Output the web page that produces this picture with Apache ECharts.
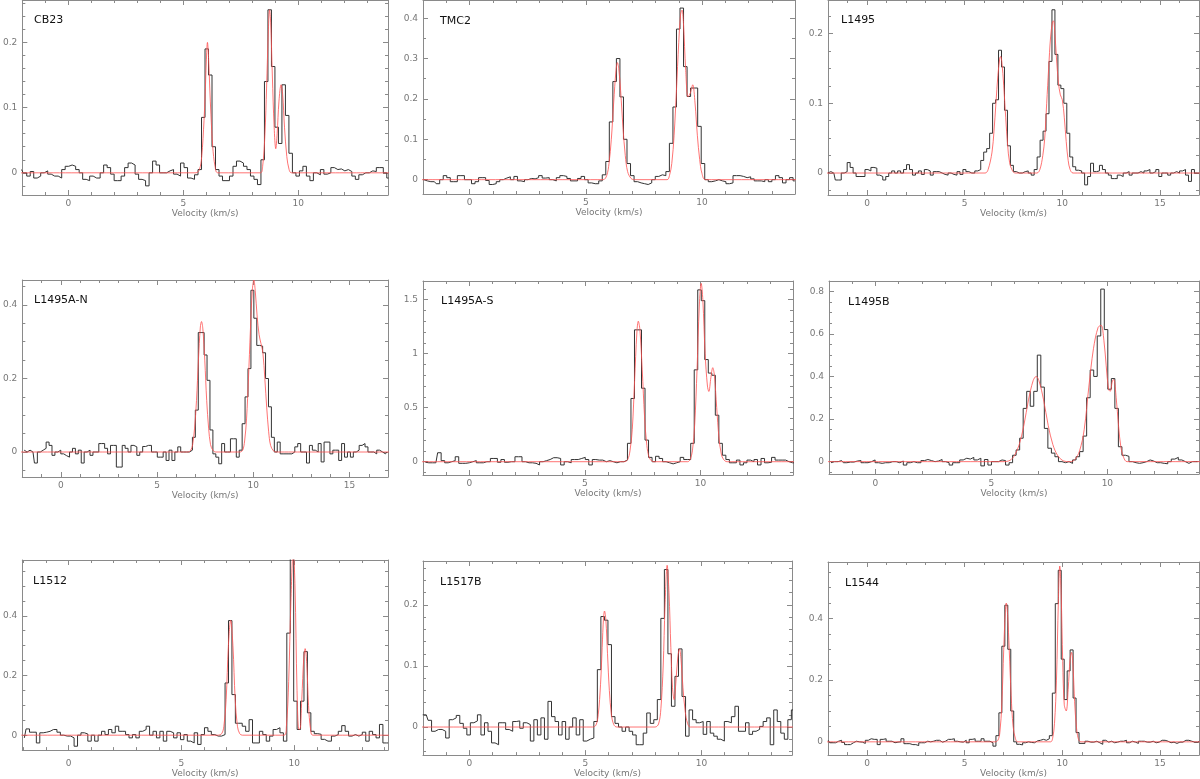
<!DOCTYPE html>
<html>
<head>
<meta charset="utf-8">
<title>Spectra</title>
<script src="https://cdn.jsdelivr.net/npm/echarts@6/dist/echarts.min.js"></script>
<style>
html, body { margin: 0; padding: 0; background: #fff; }
#chart { width: 1200px; height: 779px; }
</style>
</head>
<body>
<div id="chart"></div>
<script>
// source names, one per panel
const names = ['CB23', 'TMC2', 'L1495', 'L1495A-N', 'L1495A-S', 'L1495B', 'L1512', 'L1517B', 'L1544'];

// channel grid: first channel velocity (km/s) per panel, channel width
const v0 = [-2.036, -1.966, -2.006, -1.902, -1.899, -1.913, -1.96, -2.011, -1.988];
const dv = 0.152;

// observed spectra (K), one value per channel
const cb23 = [
  0.005,0,-0.005,0.002,-0.008,-0.005,0,0.003,-0.002,-0.005,
  -0.005,-0.008,0.005,0.01,0.012,0.01,0.005,0,-0.01,-0.012,
  -0.005,-0.008,-0.008,0,0.012,0.008,-0.002,-0.012,-0.012,-0.005,
  0.008,0.015,0.012,-0.002,-0.01,-0.012,-0.02,0,0.018,0.012,
  0,0,0.003,0.005,-0.002,-0.005,0.015,0.008,-0.008,-0.01,
  -0.003,0.005,0.085,0.19,0.15,0.04,0.005,-0.005,-0.012,-0.012,
  -0.005,0.01,0.018,0.015,0.01,0.005,-0.005,-0.01,-0.018,0.02,
  0.14,0.25,0.163,0.07,0.045,0.135,0.088,0.03,0,-0.005,
  0.003,0.01,-0.005,-0.012,0,-0.003,0.005,-0.002,0,0.008,
  0.005,0.006,0.003,0.005,0.002,-0.005,-0.01,-0.003,0,0,
  0.003,0.002,0.008,0.008,0,-0.008
];
const tmc2 = [
  0,-0.003,-0.005,-0.005,-0.01,0,0.01,0.005,-0.005,-0.005,
  0.01,0.01,0,0,-0.01,-0.005,0.005,0.005,-0.002,-0.012,
  -0.01,-0.005,0,0.004,0.007,0,0.008,-0.003,-0.005,0,
  0.003,0.002,0.005,0.01,0.004,0.005,0,-0.003,0.005,0.01,
  0.008,0.003,-0.003,-0.003,0.003,0.008,0,-0.008,-0.01,-0.01,
  -0.003,0.012,0.045,0.143,0.243,0.3,0.205,0.1,0.04,0.01,
  -0.005,-0.008,-0.01,-0.012,-0.008,0,0.008,0.012,0.01,0.02,
  0.09,0.18,0.373,0.425,0.28,0.206,0.227,0.227,0.132,0.04,
  0,-0.005,-0.003,0,-0.003,-0.005,-0.01,-0.008,0.01,0.01,
  0.008,0.005,0.007,0.002,-0.003,-0.003,-0.005,0,-0.005,0,
  0.01,0.005,-0.008,0,0.005,-0.003
];
const l1495 = [
  0,0.002,0,-0.01,-0.01,0,0.002,0.015,0.008,0,
  -0.005,-0.005,-0.005,0.005,0.003,0.008,0.007,-0.003,-0.005,-0.01,
  -0.005,0,0.003,0,0.003,0,0.005,0.012,0.005,-0.003,
  0,0.003,-0.002,0.005,0.003,-0.003,0.002,0.002,0,-0.002,
  -0.003,0,-0.002,-0.003,0.002,-0.002,0.005,0.002,0,0,
  0.003,0.005,0.018,0.03,0.035,0.057,0.1,0.105,0.176,0.152,
  0.09,0.039,0.011,0.002,0,0,0.002,0.003,0,-0.003,
  0.005,0.023,0.047,0.06,0.085,0.16,0.234,0.17,0.126,0.121,
  0.1,0.057,0.023,0.009,0.004,0.003,0,-0.017,-0.005,0.014,
  0.002,0.003,0.011,0.005,0,-0.003,-0.008,-0.008,-0.003,-0.005,
  0,0.002,-0.003,0,0,0.002,0,0.003,0.005,0,
  0.002,0.005,-0.005,0,0,-0.003,0,0.002,0,0.003,
  0.005,-0.003,-0.012,0.005,0,0
];
const l1495an = [
  0.005,0,0.005,0,-0.03,0,0.005,0.01,0.027,0.018,
  -0.009,0,0.005,-0.005,-0.01,-0.014,0,0.01,-0.005,0.005,
  -0.03,0,0.005,-0.009,0,0,0.023,0.023,0.01,-0.005,
  0.018,0.018,-0.041,-0.041,0.018,0.01,0,0.018,0.014,-0.009,
  0,0.015,0.018,0.018,0,0,-0.014,-0.014,0,-0.023,
  0.005,-0.023,0,0.014,0,0,0,0.005,0.04,0.114,
  0.325,0.325,0.264,0.195,0.06,-0.005,-0.014,-0.032,0.023,0,
  0,0.036,0.036,-0.014,0.005,0.077,0.15,0.227,0.44,0.364,
  0.29,0.288,0.27,0.2,0.123,0.04,0,0.027,-0.005,-0.005,
  -0.005,-0.005,0,0.014,0.023,0,0,-0.03,0.018,0.005,
  0,0.023,-0.027,0.027,0.027,-0.005,0.005,0.005,-0.023,0.023,
  -0.014,0,-0.014,0,0.005,0.018,0.023,0.014,0,0,
  -0.005,0.005,0,-0.005,0
];
const l1495as = [
  -0.005,-0.01,-0.01,-0.01,0.083,0.01,-0.01,0,0.01,0.046,
  -0.015,-0.015,-0.01,0,0.01,-0.01,-0.01,0,0,0.03,
  0.03,-0.005,0.02,-0.005,0,0,0.046,0.046,0,-0.01,
  -0.01,-0.015,-0.03,0,0.01,0.02,0.037,0.037,0.03,-0.03,
  0,-0.01,0.02,0.02,0.03,0.04,0.02,-0.03,0.02,0.015,
  0.015,0,0.01,0,-0.01,0,0,0.015,0.17,0.585,
  1.22,1.22,0.68,0.2,0.04,0,0.05,0.03,0,-0.01,
  -0.02,-0.01,0,0.04,0.02,0.02,0.17,0.85,1.59,1.49,
  0.945,0.82,0.8,0.43,0.17,0.06,0.02,-0.01,-0.01,0.015,
  -0.03,-0.01,0.015,0,0.02,-0.03,0.03,-0.01,-0.005,0.04,
  0.015,0.015,0.015,0,-0.01,-0.01
];
const l1495b = [
  -0.005,0,0,0.005,-0.005,-0.002,-0.002,0.003,0.005,-0.005,
  -0.005,0,0.008,-0.005,-0.008,-0.005,-0.005,0,0,-0.005,
  0.003,-0.016,-0.005,0,-0.005,-0.005,0.005,0.01,0.005,0,
  0.003,0.01,0,-0.005,-0.016,-0.005,-0.005,0.008,0.016,0.012,
  0.02,0.008,0.016,-0.02,0.01,-0.016,0,0,0.008,0.005,
  -0.016,-0.005,0.03,0.055,0.11,0.25,0.33,0.26,0.33,0.5,
  0.35,0.156,0.063,0.04,0.023,0,-0.005,0,-0.008,0.008,
  0.023,0.047,0.12,0.3,0.43,0.4,0.59,0.81,0.62,0.34,
  0.39,0.25,0.07,0.03,0.025,0,-0.005,-0.008,-0.005,0,
  0.008,0.003,-0.005,-0.005,-0.008,-0.01,0,0.012,0.02,0.008,
  0,-0.008,0,0,0
];
const l1512 = [
  -0.009,0.021,0.01,0.01,-0.026,0.008,0.01,0.013,0.019,0.019,
  0.01,0,-0.003,-0.003,-0.009,-0.037,0,0.008,0.004,-0.02,
  0,-0.02,0,0.013,0.002,0.019,0.008,0.03,0.013,0.013,
  0.002,-0.009,0.002,-0.009,0.013,0.019,0.03,0,0.013,-0.009,
  0.013,-0.02,0.013,0.008,-0.009,0.008,-0.015,0.002,-0.02,-0.026,
  0.008,-0.031,0.002,0.025,0.013,0.002,-0.003,-0.003,0.002,0.175,
  0.384,0.136,0.04,0.04,0.03,0.013,0.052,-0.026,-0.026,0.013,
  0.002,-0.02,-0.003,0.019,0.025,0.008,-0.02,0.342,0.6,0.114,
  0.019,0.114,0.28,0.075,0.013,0.005,0.003,-0.014,-0.02,-0.02,
  -0.003,0.002,0.013,0.032,0.013,-0.003,0.002,-0.003,0.002,0.01,
  -0.02,0.013,0.002,-0.009,0.036,-0.026,-0.026
];
const l1517b = [
  0.02,0.02,0.011,-0.007,-0.004,-0.004,-0.007,-0.018,0.012,0.015,
  0.019,0.006,-0.002,-0.013,0.007,0.01,0.02,-0.013,0.007,-0.007,
  -0.026,-0.029,0.007,0.007,-0.004,-0.007,0.009,0.01,-0.002,0.007,
  0.004,-0.023,0.012,-0.013,0.015,-0.02,0.042,0.017,0.009,-0.013,
  0.009,-0.02,0,0.015,-0.013,0.012,-0.023,-0.02,-0.018,0.009,
  0.094,0.181,0.175,0.135,0.017,0.006,0,-0.007,0,-0.007,
  -0.013,-0.029,-0.029,-0.01,0.023,0.006,0.012,0.045,0.178,0.258,
  0.12,0.034,0.083,0.128,0.05,-0.015,0.028,0.012,0.007,0.009,
  -0.012,0.009,-0.01,-0.015,-0.02,-0.023,0.009,0.007,0.017,0.034,
  -0.007,-0.007,0.007,-0.012,-0.007,-0.004,0.001,0.009,0.015,-0.029,
  0.028,0.009,-0.01,-0.02,0.012,0.028
];
const l1544 = [
  0.005,-0.003,-0.003,0.002,0.005,-0.002,-0.009,-0.009,-0.003,0.002,
  0,-0.001,-0.005,0.005,0.01,0.008,0.008,-0.009,0.008,0.01,
  0.002,0.002,-0.003,-0.001,0,0.01,-0.006,-0.006,-0.009,-0.009,
  -0.012,-0.003,-0.003,0.002,0,0.002,0.005,0.005,-0.001,0.002,
  0.008,0.008,0.01,0.002,0,-0.001,0.005,-0.003,0.008,0.01,
  0.002,0.002,0.01,0.002,0.002,-0.003,-0.014,0.02,0.094,0.31,
  0.443,0.3,0.1,0,-0.008,-0.01,-0.003,0,-0.002,-0.003,
  0.003,0.005,0.008,0.005,0.01,0.02,0.158,0.448,0.556,0.268,
  0.137,0.23,0.298,0.142,0.03,-0.005,-0.005,0.002,-0.001,-0.001,
  0.002,-0.003,-0.008,0.005,-0.001,0.002,-0.003,-0.001,0.002,0.002,
  0.005,-0.003,0.002,-0.001,-0.005,0.002,0.002,-0.001,-0.001,0.002,
  -0.003,-0.001,0.005,0.005,0.002,-0.003,-0.001,-0.005,-0.001,-0.001,
  0.005,0.005,0.002,-0.001,-0.001,0.002
];

// hyperfine fits (velocity, K)
const cb23Fit = [[-2.1,0],[5.55,0],[5.7,0.005],[5.8,0.025],[5.9,0.08],[5.95,0.12],[6.0,0.17],[6.05,0.2],[6.1,0.175],[6.15,0.13],[6.2,0.09],[6.28,0.04],[6.38,0.01],[6.5,0],[8.35,0],[8.45,0.01],[8.55,0.06],[8.62,0.13],[8.7,0.22],[8.75,0.25],[8.8,0.23],[8.87,0.15],[8.95,0.07],[9.02,0.037],[9.08,0.06],[9.16,0.11],[9.25,0.135],[9.32,0.12],[9.4,0.07],[9.5,0.025],[9.6,0.005],[9.7,0],[14.2,0]];
const tmc2Fit = [[-2.1,0],[5.75,0],[5.9,0.01],[6.0,0.04],[6.1,0.1],[6.2,0.19],[6.3,0.27],[6.36,0.29],[6.42,0.275],[6.5,0.22],[6.6,0.13],[6.7,0.06],[6.8,0.02],[6.95,0.003],[7.1,0],[8.5,0],[8.6,0.01],[8.7,0.04],[8.8,0.11],[8.9,0.22],[9.0,0.34],[9.08,0.41],[9.14,0.42],[9.2,0.39],[9.3,0.27],[9.4,0.205],[9.5,0.215],[9.6,0.235],[9.7,0.19],[9.8,0.11],[9.9,0.05],[10.0,0.015],[10.15,0],[14.2,0]];
const l1495Fit = [[-2.1,0],[6.05,0],[6.2,0.005],[6.4,0.03],[6.5,0.06],[6.6,0.1],[6.7,0.14],[6.8,0.165],[6.84,0.167],[6.9,0.16],[7.0,0.125],[7.1,0.08],[7.2,0.04],[7.3,0.015],[7.45,0.003],[7.6,0],[8.7,0],[8.85,0.005],[9.0,0.025],[9.1,0.05],[9.2,0.1],[9.3,0.15],[9.4,0.195],[9.5,0.217],[9.55,0.218],[9.62,0.2],[9.7,0.165],[9.8,0.13],[9.9,0.112],[10.0,0.105],[10.1,0.08],[10.2,0.045],[10.3,0.018],[10.4,0.005],[10.55,0],[17.2,0]];
const l1495anFit = [[-2.1,0],[6.6,0],[6.75,0.005],[6.85,0.02],[6.95,0.065],[7.05,0.14],[7.15,0.25],[7.25,0.34],[7.31,0.355],[7.38,0.335],[7.48,0.25],[7.58,0.14],[7.68,0.065],[7.78,0.02],[7.9,0.005],[8.05,0],[9.3,0],[9.45,0.005],[9.55,0.03],[9.65,0.09],[9.75,0.2],[9.85,0.33],[9.95,0.44],[10.03,0.468],[10.1,0.44],[10.2,0.37],[10.3,0.32],[10.4,0.295],[10.5,0.27],[10.6,0.2],[10.7,0.12],[10.8,0.055],[10.9,0.018],[11.05,0.003],[11.2,0],[17.2,0]];
const l1495asFit = [[-2.1,0],[6.7,0],[6.85,0.02],[6.95,0.1],[7.05,0.3],[7.15,0.75],[7.25,1.2],[7.31,1.3],[7.38,1.22],[7.48,0.85],[7.58,0.42],[7.68,0.15],[7.78,0.04],[7.9,0.005],[8.0,0],[9.45,0],[9.55,0.02],[9.65,0.1],[9.75,0.35],[9.85,0.85],[9.95,1.45],[10.03,1.65],[10.1,1.5],[10.2,1.0],[10.3,0.7],[10.36,0.65],[10.45,0.78],[10.53,0.87],[10.6,0.8],[10.7,0.5],[10.8,0.22],[10.9,0.07],[11.0,0.02],[11.15,0],[14.2,0]];
const l1495bFit = [[-2.1,0],[5.5,0],[5.8,0.006],[6.0,0.03],[6.2,0.08],[6.4,0.17],[6.6,0.29],[6.8,0.38],[6.93,0.4],[7.05,0.38],[7.25,0.29],[7.45,0.17],[7.65,0.08],[7.85,0.03],[8.05,0.007],[8.3,0],[8.4,0],[8.6,0.01],[8.8,0.05],[9.0,0.15],[9.2,0.35],[9.4,0.53],[9.6,0.63],[9.73,0.64],[9.85,0.57],[9.95,0.45],[10.05,0.34],[10.12,0.33],[10.22,0.38],[10.28,0.385],[10.38,0.3],[10.48,0.17],[10.58,0.07],[10.7,0.02],[10.85,0],[14.2,0]];
const l1512Fit = [[-2.1,0],[6.6,0],[6.78,0.005],[6.88,0.03],[6.98,0.12],[7.08,0.3],[7.18,0.385],[7.28,0.3],[7.38,0.12],[7.48,0.03],[7.58,0.005],[7.7,0],[9.55,0],[9.65,0.03],[9.75,0.18],[9.85,0.45],[9.95,0.62],[10.03,0.5],[10.12,0.15],[10.2,0.02],[10.25,0.02],[10.33,0.12],[10.42,0.26],[10.48,0.29],[10.55,0.24],[10.63,0.1],[10.72,0.02],[10.82,0],[14.3,0]];
const l1517bFit = [[-2.1,0],[5.3,0],[5.45,0.003],[5.55,0.02],[5.65,0.07],[5.72,0.13],[5.78,0.18],[5.82,0.19],[5.88,0.175],[5.95,0.12],[6.03,0.06],[6.12,0.02],[6.22,0.004],[6.35,0],[8.0,0],[8.15,0.005],[8.25,0.03],[8.35,0.1],[8.43,0.2],[8.52,0.265],[8.6,0.22],[8.68,0.13],[8.75,0.065],[8.82,0.045],[8.9,0.075],[8.98,0.115],[9.05,0.128],[9.12,0.11],[9.2,0.065],[9.3,0.025],[9.4,0.006],[9.52,0],[14.2,0]];
const l1544Fit = [[-2.1,0],[6.55,0],[6.7,0.005],[6.8,0.03],[6.9,0.12],[7.0,0.3],[7.08,0.42],[7.13,0.45],[7.2,0.41],[7.28,0.3],[7.38,0.15],[7.48,0.05],[7.6,0.01],[7.72,0],[9.4,0],[9.5,0.01],[9.6,0.06],[9.7,0.2],[9.8,0.46],[9.87,0.57],[9.94,0.48],[10.02,0.26],[10.1,0.12],[10.2,0.1],[10.3,0.17],[10.4,0.27],[10.47,0.29],[10.55,0.24],[10.63,0.13],[10.72,0.05],[10.82,0.01],[10.95,0],[17.2,0]];

const spectra = [cb23, tmc2, l1495, l1495an, l1495as, l1495b, l1512, l1517b, l1544];
const fits = [cb23Fit, tmc2Fit, l1495Fit, l1495anFit, l1495asFit, l1495bFit, l1512Fit, l1517bFit, l1544Fit];

// axis ranges
const xRanges = [[-2,13.9],[-2,14],[-2,17],[-2,17],[-2,14],[-2,13.95],[-2.05,14.15],[-2,13.9],[-2,17]];
const yRanges = [[-0.034,0.265],[-0.0355,0.445],[-0.0315,0.248],[-0.068,0.468],[-0.123,1.672],[-0.058,0.848],[-0.05,0.587],[-0.046,0.272],[-0.043,0.583]];

// layout: plot boxes [left, top, right, bottom] in px, y split / minor split
const boxes = [[17,0,388,195],[423,0,795,194],[828,0,1199,195],[17,280,388,477],[423,281,793,475],[829,281,1199,474],[17,560,388,751],[423,561,792,756],[828,562,1199,756]];
const ySplit = [3,5,3,3,4,4,3,3,3];
const yMinor = [5,2,4,4,5,4,4,5,4];
const labelGap = [4,4,4,4,4,5,9,4,4];
const titlePos = [[29,10],[435,11],[836,10],[29,290],[436,291],[843,292],[28,571],[435,572],[840,573]];

var myChart = echarts.init(document.getElementById('chart'));
const FONT = 'DejaVu Sans';
const AXIS = '#8a8a8a';

const grid = [], xAxis = [], yAxis = [], series = [], title = [];
names.forEach(function (name, k) {
    const b = boxes[k];
    grid.push({ left: b[0], top: b[1], width: b[2] - b[0], height: b[3] - b[1], containLabel: false });
    const common = {
        type: 'value',
        gridIndex: k,
        axisLine: { show: true, onZero: false, lineStyle: { color: AXIS, width: 1 } },
        axisTick: { show: true, inside: true, length: 5, lineStyle: { color: AXIS } },
        minorTick: { show: true, length: 3, lineStyle: { color: AXIS } },
        splitLine: { show: false },
        minorSplitLine: { show: false }
    };
    // bottom and top velocity axes
    xAxis.push(Object.assign({}, common, {
        position: 'bottom', min: xRanges[k][0], max: xRanges[k][1], splitNumber: 3,
        minorTick: Object.assign({}, common.minorTick, { splitNumber: 5 }),
        name: 'Velocity (km/s)', nameLocation: 'middle', nameGap: labelGap[k] + 9,
        nameTextStyle: { color: '#777', fontSize: 9, fontFamily: FONT },
        axisLabel: { show: true, margin: labelGap[k], color: '#777', fontSize: 9, fontFamily: FONT, showMinLabel: false, showMaxLabel: false }
    }));
    xAxis.push(Object.assign({}, common, {
        position: 'top', min: xRanges[k][0], max: xRanges[k][1], splitNumber: 3,
        minorTick: Object.assign({}, common.minorTick, { splitNumber: 5 }),
        axisLabel: { show: false }
    }));
    // left and right intensity axes
    yAxis.push(Object.assign({}, common, {
        position: 'left', min: yRanges[k][0], max: yRanges[k][1], splitNumber: ySplit[k],
        minorTick: Object.assign({}, common.minorTick, { splitNumber: yMinor[k] }),
        axisLabel: { show: true, margin: 5, color: '#777', fontSize: 9, fontFamily: FONT, showMinLabel: false, showMaxLabel: false }
    }));
    yAxis.push(Object.assign({}, common, {
        position: 'right', min: yRanges[k][0], max: yRanges[k][1], splitNumber: ySplit[k],
        minorTick: Object.assign({}, common.minorTick, { splitNumber: yMinor[k] }),
        axisLabel: { show: false }
    }));

    const obs = spectra[k].map(function (t, i) { return [v0[k] + i * dv, t]; });
    series.push({
        name: name, type: 'line', xAxisIndex: 2 * k, yAxisIndex: 2 * k,
        data: obs, step: 'middle', symbol: 'none', clip: true,
        lineStyle: { color: '#333', width: 1 }, z: 2
    });
    series.push({
        name: name + ' fit', type: 'line', xAxisIndex: 2 * k, yAxisIndex: 2 * k,
        data: fits[k], smooth: 0.35, symbol: 'none', clip: true,
        lineStyle: { color: '#ff5050', width: 1, opacity: 0.8 }, z: 3
    });
    title.push({
        text: name, left: titlePos[k][0], top: titlePos[k][1],
        textStyle: { color: '#111', fontSize: 11, fontWeight: 'normal', fontFamily: FONT }
    });
});

var option = {
    animation: false,
    backgroundColor: '#fff',
    title: title,
    grid: grid,
    xAxis: xAxis,
    yAxis: yAxis,
    series: series
};
myChart.setOption(option);
window.addEventListener('resize', function () { myChart.resize(); });
</script>
</body>
</html>
